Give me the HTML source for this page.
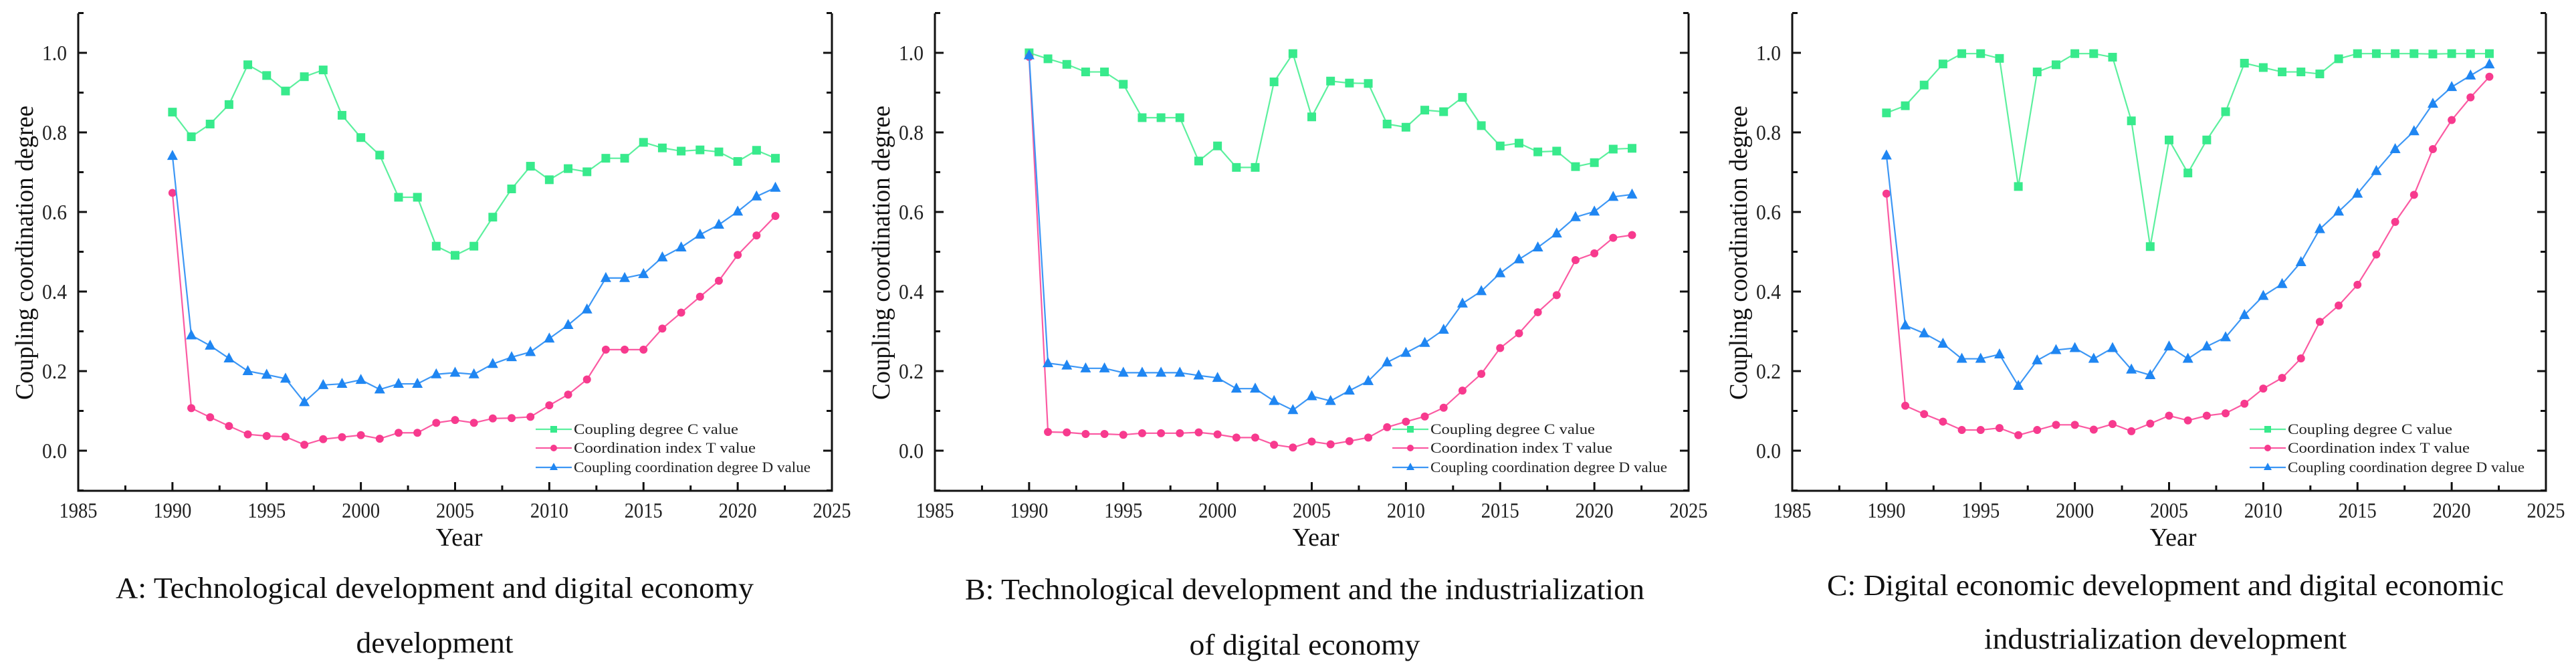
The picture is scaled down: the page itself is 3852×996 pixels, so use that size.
<!DOCTYPE html>
<html><head><meta charset="utf-8"><style>
html,body{margin:0;padding:0;background:#fff;}
svg{display:block;font-family:"Liberation Serif",serif;}
</style></head><body>
<svg id="root" width="3852" height="996" viewBox="0 0 3852 996" xmlns="http://www.w3.org/2000/svg"></svg>
<script>
const years = [1990,1991,1992,1993,1994,1995,1996,1997,1998,1999,2000,2001,2002,2003,2004,2005,2006,2007,2008,2009,2010,2011,2012,2013,2014,2015,2016,2017,2018,2019,2020,2021,2022];
const xTicks = [1985,1990,1995,2000,2005,2010,2015,2020,2025];
const yTicks = [0.0,0.2,0.4,0.6,0.8,1.0];
const yTickLabels = ["0.0","0.2","0.4","0.6","0.8","1.0"];
const seriesNames = ["Coupling degree C value","Coordination index T value","Coupling coordination degree D value"];

const cA = [0.851,0.789,0.821,0.870,0.970,0.943,0.904,0.940,0.957,0.843,0.787,0.743,0.637,0.637,0.514,0.491,0.514,0.587,0.658,0.715,0.681,0.709,0.701,0.735,0.735,0.775,0.761,0.753,0.756,0.751,0.727,0.755,0.735];
const tA = [0.648,0.107,0.084,0.062,0.041,0.037,0.035,0.015,0.029,0.034,0.039,0.030,0.045,0.045,0.070,0.077,0.070,0.081,0.082,0.085,0.114,0.141,0.179,0.254,0.254,0.254,0.307,0.347,0.387,0.427,0.492,0.541,0.590];
const dA = [0.741,0.290,0.264,0.232,0.200,0.191,0.181,0.122,0.165,0.168,0.178,0.154,0.168,0.168,0.192,0.196,0.192,0.218,0.235,0.248,0.282,0.316,0.355,0.434,0.434,0.444,0.486,0.511,0.543,0.568,0.601,0.639,0.661];

const cB = [1.000,0.985,0.971,0.952,0.952,0.921,0.837,0.837,0.837,0.728,0.766,0.712,0.712,0.927,0.998,0.839,0.929,0.924,0.923,0.821,0.813,0.856,0.852,0.888,0.817,0.766,0.773,0.751,0.753,0.714,0.724,0.758,0.760];
const tB = [0.990,0.047,0.046,0.042,0.042,0.040,0.044,0.044,0.044,0.046,0.041,0.033,0.033,0.015,0.008,0.023,0.016,0.024,0.033,0.059,0.073,0.086,0.108,0.151,0.193,0.258,0.295,0.348,0.391,0.479,0.496,0.535,0.542];
const dB = [0.994,0.220,0.214,0.207,0.207,0.196,0.196,0.196,0.196,0.189,0.183,0.156,0.156,0.125,0.102,0.137,0.125,0.151,0.175,0.222,0.246,0.271,0.304,0.370,0.401,0.446,0.481,0.511,0.546,0.587,0.601,0.638,0.644];

const cC = [0.849,0.867,0.919,0.972,0.998,0.998,0.986,0.664,0.952,0.970,0.998,0.998,0.989,0.829,0.513,0.781,0.698,0.781,0.852,0.974,0.963,0.952,0.952,0.947,0.985,0.998,0.998,0.998,0.998,0.997,0.998,0.998,0.998];
const tC = [0.646,0.113,0.092,0.073,0.052,0.052,0.057,0.039,0.052,0.065,0.065,0.053,0.067,0.049,0.068,0.088,0.076,0.088,0.094,0.118,0.156,0.183,0.232,0.324,0.365,0.417,0.493,0.575,0.643,0.758,0.831,0.888,0.940];
const dC = [0.742,0.315,0.295,0.269,0.231,0.231,0.242,0.163,0.227,0.253,0.258,0.231,0.258,0.204,0.190,0.262,0.231,0.262,0.285,0.341,0.389,0.419,0.474,0.557,0.601,0.646,0.703,0.758,0.803,0.872,0.914,0.943,0.971];

const NS = "http://www.w3.org/2000/svg";
const root = document.getElementById('root');
const GREEN = "#38ea8c", PINK = "#f73a8e", BLUE = "#1f86f2";
const GREENL = "#5cf09e", PINKL = "#fb5aa2", BLUEL = "#3d97f5";

function mk(tag, attrs, parent) {
  const e = document.createElementNS(NS, tag);
  for (const k in attrs) e.setAttribute(k, attrs[k]);
  parent.appendChild(e);
  return e;
}

function drawChart(id, ox, C, T, D, cap1, cap1w, cap2, cap2w, capX, capY1, capY2) {
  const W = 1127, Y0 = 674, PXV = 595, TOP = 20, BOT = 734;
  const xs = yr => ox + (yr - 1985) * W / 40;
  const ys = v => Y0 - v * PXV;
  const g = mk('g', {}, root);
  
  

  // axes
  const ax = mk('path', {d:`M${ox} ${TOP} V${BOT} H${ox+W} V${TOP}`, fill:'none', stroke:'#111', 'stroke-width':3}, g);
  
  

  // y ticks
  for (let v = -0.1; v <= 1.101; v += 0.1) {
    const vv = Math.round(v*10)/10;
    const major = Math.abs(Math.round(vv*10) % 2) === 0;
    const L = major ? 13 : 8;
    mk('line', {x1:ox, x2:ox+L, y1:ys(vv), y2:ys(vv), stroke:'#111', 'stroke-width':3}, g);
    mk('line', {x1:ox+W, x2:ox+W-L, y1:ys(vv), y2:ys(vv), stroke:'#111', 'stroke-width':3}, g);
  }
  yTicks.forEach((v, i) => {
    const t = mk('text', {x:ox-17, y:ys(v)+11, 'font-size':32, 'text-anchor':'end', fill:'#222', textLength:37, lengthAdjust:'spacingAndGlyphs'}, g);
    t.textContent = yTickLabels[i];
    
    
  });
  // x ticks
  for (let yr = 1985; yr <= 2025; yr += 2.5) {
    const major = (yr % 5) === 0;
    const L = major ? 13 : 8;
    mk('line', {x1:xs(yr), x2:xs(yr), y1:BOT, y2:BOT-L, stroke:'#111', 'stroke-width':3}, g);
  }
  xTicks.forEach(yr => {
    const t = mk('text', {x:xs(yr), y:774, 'font-size':32, 'text-anchor':'middle', fill:'#222', textLength:57, lengthAdjust:'spacingAndGlyphs'}, g);
    t.textContent = String(yr);
    
    
  });
  const xt = mk('text', {x:xs(2005)+6, y:816, 'font-size':38, 'text-anchor':'middle', fill:'#111'}, g);
  xt.textContent = 'Year';
  
  
  const yt = mk('text', {x:0, y:0, 'font-size':38, 'text-anchor':'middle', fill:'#111', transform:`translate(${ox-68},378) rotate(-90)`, textLength:440, lengthAdjust:'spacingAndGlyphs'}, g);
  yt.textContent = 'Coupling coordination degree';
  
  

  // series
  const series = [[C, GREEN, GREENL, 'square', 'series-c'], [T, PINK, PINKL, 'circle', 'series-t'], [D, BLUE, BLUEL, 'triangle', 'series-d']];
  series.forEach(([vals, col, lcol, shape, nm]) => {
    const sg = mk('g', {}, g);
    
    
    const pts = vals.map((v, i) => xs(years[i]) + ',' + ys(v)).join(' ');
    const pl = mk('polyline', {points:pts, fill:'none', stroke:lcol, 'stroke-width':2.2}, sg);
    
    
    vals.forEach((v, i) => {
      const x = xs(years[i]), y = ys(v);
      let m;
      if (shape === 'square') m = mk('rect', {x:x-6.5, y:y-6.5, width:13, height:13, fill:col}, sg);
      else if (shape === 'circle') m = mk('circle', {cx:x, cy:y, r:6, fill:col}, sg);
      else m = mk('polygon', {points:`${x},${y-9} ${x-8},${y+6} ${x+8},${y+6}`, fill:col}, sg);
      
      
    });
  });

  // legend
  const lg = mk('g', {}, g);
  
  
  const lx = ox + 684, rows = [642, 670, 699], lw = [246, 272, 354];
  series.forEach(([vals, col, lcol, shape, nm], i) => {
    const y = rows[i];
    const e = mk('g', {}, lg);
    
    
    mk('line', {x1:lx, x2:lx+54, y1:y, y2:y, stroke:lcol, 'stroke-width':2.2}, e);
    const cx = lx + 27;
    if (shape === 'square') mk('rect', {x:cx-5, y:y-5, width:10, height:10, fill:col}, e);
    else if (shape === 'circle') mk('circle', {cx:cx, cy:y, r:5, fill:col}, e);
    else mk('polygon', {points:`${cx},${y-7} ${cx-6},${y+4} ${cx+6},${y+4}`, fill:col}, e);
    const t = mk('text', {x:lx+57, y:y+7, 'font-size':22, fill:'#222', textLength:lw[i], lengthAdjust:'spacingAndGlyphs'}, e);
    t.textContent = seriesNames[i];
  });

  // caption
  const c1 = mk('text', {x:capX, y:capY1, 'font-size':44, 'text-anchor':'middle', fill:'#111', textLength:cap1w, lengthAdjust:'spacingAndGlyphs'}, g);
  c1.textContent = cap1;
  
  
  const c2 = mk('text', {x:capX, y:capY2, 'font-size':44, 'text-anchor':'middle', fill:'#111', textLength:cap2w, lengthAdjust:'spacingAndGlyphs'}, g);
  c2.textContent = cap2;
  
  
}

drawChart('a', 117, cA, tA, dA, 'A: Technological development and digital economy', 954, 'development', 235, 650, 894, 976);
drawChart('b', 1398, cB, tB, dB, 'B: Technological development and the industrialization', 1016, 'of digital economy', 345, 1951, 896, 979);
drawChart('c', 2680, cC, tC, dC, 'C: Digital economic development and digital economic', 1012, 'industrialization development', 542, 3238, 890, 970);
</script>
</body></html>
